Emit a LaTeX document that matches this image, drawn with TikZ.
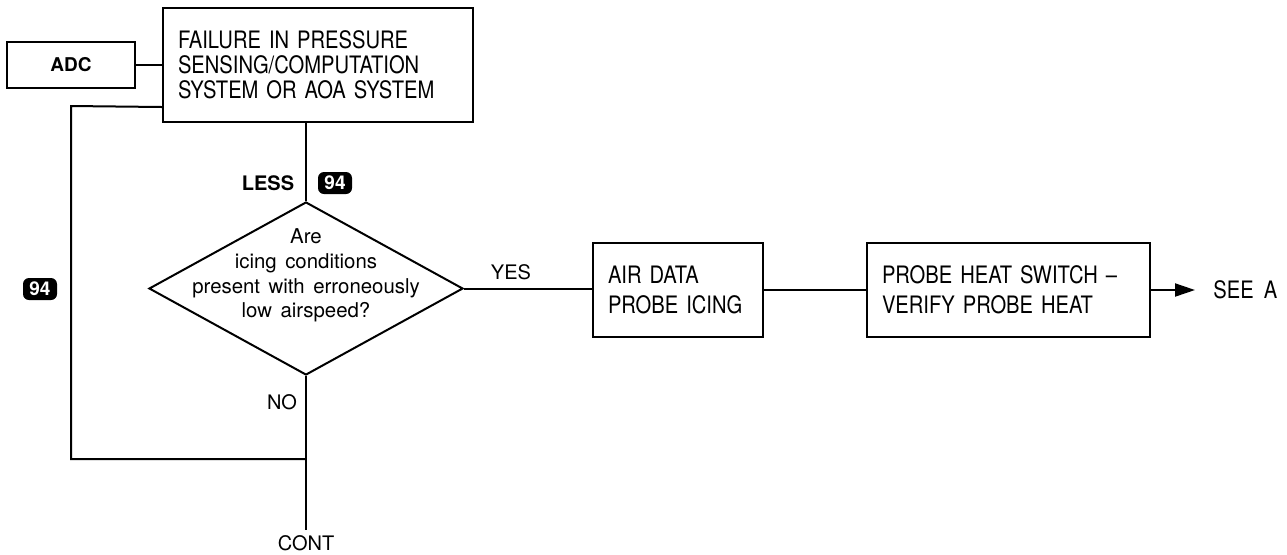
\documentclass[tikz,border=0pt]{standalone}
\usepackage{fontspec}
\setmainfont{TeX Gyre Heros}
\newfontfamily\boxfont[FakeStretch=0.84,WordSpace=1.8]{TeX Gyre Heros}
\newfontfamily\qfont[WordSpace=1.5]{TeX Gyre Heros}
\usetikzlibrary{shapes.geometric,arrows.meta}

\tikzset{
  flow/.style={line width=1pt},
  stepbox/.style={draw, line width=1pt, align=left, inner xsep=7.5pt, inner ysep=0pt},
  boxtext/.style={font=\boxfont\fontsize{12}{15}\selectfont},
  lbl/.style={font=\fontsize{10}{12}\selectfont},
  badge/.style={fill=black, text=white, rounded corners=3pt, inner sep=0pt,
    minimum width=17pt, minimum height=11pt, font=\bfseries\fontsize{9.5}{10}\selectfont}
}

\begin{document}
\begin{tikzpicture}[x=0.5pt,y=-0.5pt]
  \useasboundingbox (0,0) rectangle (1287,554);

  % boxes
  \draw(71,65) node[draw,line width=1pt,minimum width=64pt,minimum height=23pt,
    font=\bfseries\fontsize{9.5}{11}\selectfont] (adc) {ADC};
  \draw(318,65) node[stepbox,text width=140pt,minimum height=57pt,
    font=\boxfont\fontsize{12}{12.5}\selectfont] (fail)
    {FAILURE IN PRESSURE\\SENSING/COMPUTATION\\SYSTEM OR AOA SYSTEM};
  \draw(306,288.5) node[diamond,draw,line width=1pt,inner sep=0pt,
    minimum width=157pt,minimum height=86.5pt] (q) {};
  \node[align=center,inner sep=0pt,font=\qfont\fontsize{10.2}{12.3}\selectfont] (qtext)
    at ([yshift=6.5pt]q.center)
    {Are\\icing conditions\\present with erroneously\\low airspeed?};
  \draw(678,290) node[stepbox,boxtext,text width=70pt,minimum height=47pt] (air)
    {AIR DATA\\PROBE ICING};
  \draw(1008.5,290) node[stepbox,boxtext,text width=126.5pt,minimum height=47pt] (probe)
    {PROBE HEAT SWITCH –\\VERIFY PROBE HEAT};

  % labels
  \node[font=\bfseries\fontsize{10}{12}\selectfont] (less) at (268,183) {LESS};
  \node[badge] (badgetop) at (335,183) {94};
  \node[badge] (badgeleft) at (40,289) {94};
  \node[lbl] (yes) at (511,272) {YES};
  \node[lbl] (no) at (282,402) {NO};
  \node[lbl,inner ysep=2.5pt] (cont) at (306,543) {CONT};
  \node[boxtext,anchor=west,inner xsep=9pt] (seea) at (1195,290) {SEE A};

  \coordinate (lbend) at (71,106);
  \coordinate (join) at (306,459);

  % connectors
  \draw[flow] (adc.east) -- (fail.west);
  \draw[flow] (fail.south -| q.north) -- (q.north);
  \draw[flow] (q.south) -- (cont.north);
  \draw[flow] ([yshift=8pt]fail.south west) -- (lbend) |- (join);
  \draw[flow] (q.east) -- (q.east -| air.west);
  \draw[flow] (air.east) -- (probe.west);
  \draw[flow,-{Triangle[length=10pt,width=6.5pt]}] (probe.east) -- (seea.west);
\end{tikzpicture}
\end{document}
